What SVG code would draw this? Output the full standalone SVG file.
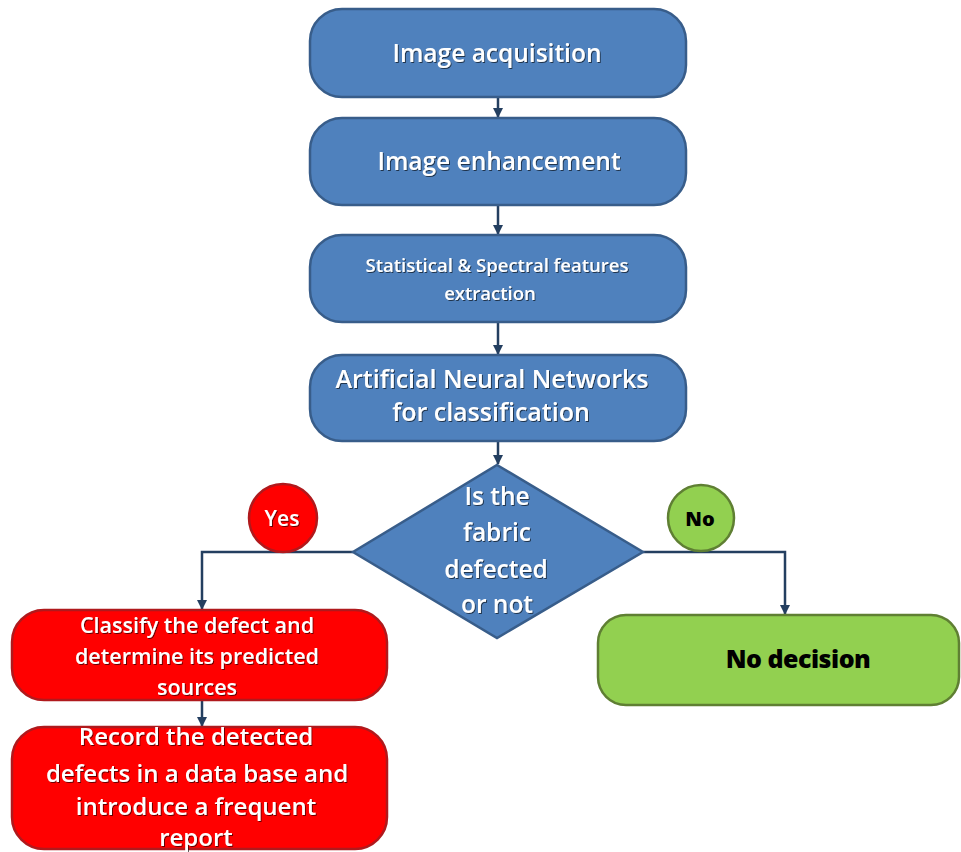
<svg xmlns="http://www.w3.org/2000/svg" width="961" height="852" viewBox="0 0 961 852">
<defs>
<style>
.blue{fill:#4f81bd;stroke:#385d8a;stroke-width:2.5}
.red{fill:#ff0000;stroke:#b0191c;stroke-width:2.5}
.green{fill:#92d050;stroke:#5f7f33;stroke-width:2.5}
.wt{fill:#ffffff;font-family:"Open Sans","Liberation Sans",sans-serif;font-weight:600;text-anchor:middle;filter:url(#sh)}
.bk{fill:#000000;font-family:"Open Sans","Liberation Sans",sans-serif;font-weight:800;text-anchor:middle}
.con{fill:none;stroke:#243f60;stroke-width:2.5}
</style>
<filter id="sh" x="-10%" y="-30%" width="120%" height="160%">
<feDropShadow dx="1" dy="1" stdDeviation="0.6" flood-color="#000000" flood-opacity="0.6"/>
</filter>
<marker id="ah" viewBox="0 0 10 10" refX="9" refY="5" markerWidth="4" markerHeight="4" orient="auto">
<path d="M0,0 L10,5 L0,10 z" fill="#243f60"/>
</marker>
</defs>
<rect width="961" height="852" fill="#ffffff"/>
<g id="connectors">
<line class="con" x1="498" y1="97" x2="498" y2="117" marker-end="url(#ah)"/>
<line class="con" x1="498" y1="205" x2="498" y2="234" marker-end="url(#ah)"/>
<line class="con" x1="498" y1="322" x2="498" y2="354" marker-end="url(#ah)"/>
<line class="con" x1="498" y1="441" x2="498" y2="464" marker-end="url(#ah)"/>
<polyline class="con" points="353,552 202,552 202,609" marker-end="url(#ah)"/>
<polyline class="con" points="643,552 785,552 785,614" marker-end="url(#ah)"/>
<line class="con" x1="202" y1="700" x2="202" y2="726" marker-end="url(#ah)"/>
</g>
<g id="n1">
<rect class="blue" x="310" y="9" width="376" height="88" rx="32"/>
<text class="wt" x="497" y="62" font-size="24.5">Image acquisition</text>
</g>
<g id="n2">
<rect class="blue" x="310" y="118" width="376" height="87" rx="32"/>
<text class="wt" x="499" y="170" font-size="24.5">Image enhancement</text>
</g>
<g id="n3">
<rect class="blue" x="310" y="235" width="376" height="87" rx="32"/>
<text class="wt" x="497" y="272" font-size="18.5">Statistical &amp; Spectral features</text>
<text class="wt" x="490" y="300" font-size="18.5">extraction</text>
</g>
<g id="n4">
<rect class="blue" x="310" y="355" width="376" height="86" rx="32"/>
<text class="wt" x="492" y="388" font-size="25">Artificial Neural Networks</text>
<text class="wt" x="491" y="421" font-size="25">for classification</text>
</g>
<g id="n5">
<polygon class="blue" points="497,465 643,552 497,638 353,552"/>
<text class="wt" x="497" y="505" font-size="24.5">Is the</text>
<text class="wt" x="497" y="541" font-size="24.5">fabric</text>
<text class="wt" x="496" y="578" font-size="24.5">defected</text>
<text class="wt" x="497" y="613" font-size="24.5">or not</text>
</g>
<g id="yes">
<circle class="red" cx="283" cy="518" r="34"/>
<text class="wt" x="282" y="526" font-size="21" font-weight="bold">Yes</text>
</g>
<g id="no">
<circle class="green" cx="701" cy="518" r="33"/>
<text class="bk" x="700" y="526" font-size="20">No</text>
</g>
<g id="n6">
<rect class="red" x="12" y="610" width="375" height="90" rx="32"/>
<text class="wt" x="197" y="633" font-size="21.5">Classify the defect and</text>
<text class="wt" x="197" y="664" font-size="21.5">determine its predicted</text>
<text class="wt" x="197" y="695" font-size="21.5">sources</text>
</g>
<g id="n7">
<rect class="red" x="12" y="727" width="375" height="122" rx="32"/>
<text class="wt" x="196" y="745" font-size="24">Record the detected</text>
<text class="wt" x="197" y="782" font-size="24">defects in a data base and</text>
<text class="wt" x="196" y="815" font-size="24">introduce a frequent</text>
<text class="wt" x="196" y="846" font-size="24">report</text>
</g>
<g id="n8">
<rect class="green" x="598" y="615" width="361" height="90" rx="28"/>
<text class="bk" x="798" y="668" font-size="25" letter-spacing="-0.5">No decision</text>
</g>
</svg>
